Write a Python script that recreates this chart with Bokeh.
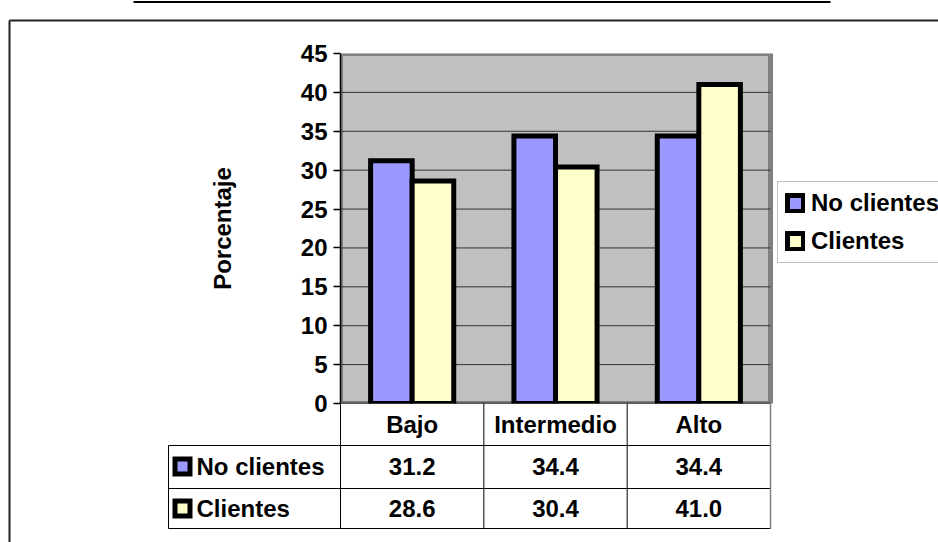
from bokeh.plotting import figure
from bokeh.models import Range1d, FixedTicker, Legend, LegendItem
from bokeh.embed import file_html
from bokeh.resources import INLINE
from bokeh.core.properties import value

# ---- data ----
categories = ["Bajo", "Intermedio", "Alto"]
series_names = ["No clientes", "Clientes"]
no_clientes = [31.2, 34.4, 34.4]
clientes = [28.6, 30.4, 41.0]
y_ticks = [0, 5, 10, 15, 20, 25, 30, 35, 40, 45]
axis_title = "Porcentaje"
colors = ["#9999FF", "#FFFFCC"]

# ---- layout constants (pixels) ----
W, H = 938, 542
FL, FR, FT, FB = 340, 770, 53, 403   # plot area in pixels
YMAX = y_ticks[-1]
NCAT = len(categories)
FONT = "Liberation Sans"
FS = "24px"


def px2x(px):
    return (px - FL) / (FR - FL) * NCAT


def px2y(py):
    return (FB - py) / (FB - FT) * YMAX


# frame spans from the value axis to the right edge of the page
p = figure(width=W, height=H, x_range=Range1d(0, px2x(W)), y_range=Range1d(0, YMAX),
           output_backend="svg", toolbar_location=None,
           min_border_left=FL, min_border_right=0,
           min_border_top=FT, min_border_bottom=H - FB)
p.background_fill_color = "white"
p.border_fill_color = "white"
p.outline_line_color = None
p.xgrid.visible = False
p.ygrid.visible = False
p.xaxis.visible = False

ya = p.yaxis[0]
ya.ticker = FixedTicker(ticks=y_ticks)
ya.axis_line_color = "black"
ya.axis_line_width = 1.5
ya.major_tick_out = 7
ya.major_tick_in = 0
ya.major_tick_line_color = "black"
ya.major_tick_line_width = 1.5
ya.minor_tick_line_color = None
ya.major_label_standoff = 6
ya.major_label_text_font = FONT
ya.major_label_text_font_style = "bold"
ya.major_label_text_font_size = FS
ya.major_label_text_color = "black"
ya.axis_label = axis_title
ya.axis_label_text_font = FONT
ya.axis_label_text_font_style = "bold"
ya.axis_label_text_font_size = FS
ya.axis_label_text_color = "black"
ya.axis_label_standoff = 62

# plot area (grey with a darker grey border)
p.quad(left=[0], right=[NCAT], bottom=[0], top=[YMAX], fill_color="#C0C0C0",
       line_color="#808080", line_width=5, line_join="miter", level="underlay")
# horizontal gridlines
inner = y_ticks[1:-1]
p.segment(x0=[0] * len(inner), x1=[NCAT] * len(inner), y0=inner, y1=inner,
          line_color="#333333", line_width=1)
# category axis line
p.segment(x0=[0], x1=[NCAT], y0=[0], y1=[0], line_color="black", line_width=1.5)

# bars
off, bw = 0.145, 0.29
centers = [i + 0.5 for i in range(NCAT)]
r1 = p.vbar(x=[c - off for c in centers], top=no_clientes, bottom=0, width=bw,
            fill_color=colors[0], line_color="black", line_width=5, line_join="miter")
r2 = p.vbar(x=[c + off for c in centers], top=clientes, bottom=0, width=bw,
            fill_color=colors[1], line_color="black", line_width=5, line_join="miter")

# legend
legend = Legend(items=[LegendItem(label=series_names[0], renderers=[r1]),
                       LegendItem(label=series_names[1], renderers=[r2])],
                location=(777 - FL, FB - 263))
legend.border_line_color = "#808080"
legend.border_line_width = 1
legend.background_fill_color = "white"
legend.background_fill_alpha = 1
legend.label_text_font = FONT
legend.label_text_font_style = "bold"
legend.label_text_font_size = FS
legend.label_text_color = "black"
legend.glyph_width = 20
legend.glyph_height = 20
legend.padding = 7
legend.spacing = 10
legend.label_standoff = 6
legend.margin = 0
p.add_layout(legend)

# data table lines
row_px = [445, 488, 528]
left_px = 168
hy = [px2y(v) for v in row_px]
p.segment(x0=[px2x(left_px)] * len(hy), y0=hy, x1=[NCAT] * len(hy), y1=hy,
          line_color="black", line_width=1, level="overlay")
vx = list(range(NCAT))
p.segment(x0=vx, y0=[0] * len(vx), x1=vx, y1=[px2y(528)] * len(vx),
          line_color="black", line_width=1, level="overlay")
p.segment(x0=[NCAT], y0=[0], x1=[NCAT], y1=[px2y(528)],
          line_color="#808080", line_width=1.5, level="overlay")
p.segment(x0=[px2x(left_px)], y0=[px2y(445)], x1=[px2x(left_px)], y1=[px2y(528)],
          line_color="black", line_width=1, level="overlay")

txt = dict(text_font=value(FONT), text_font_style="bold", text_font_size=FS,
           text_color="black", text_baseline="middle", level="overlay")
# header
p.text(x=centers, y=[px2y(424)] * NCAT, text=categories, text_align="center", **txt)
# values
p.text(x=centers, y=[px2y(466)] * NCAT, text=[f"{v:.1f}" for v in no_clientes],
       text_align="center", **txt)
p.text(x=centers, y=[px2y(508)] * NCAT, text=[f"{v:.1f}" for v in clientes],
       text_align="center", **txt)
# row labels + keys (black square with a coloured centre)
row_y = [px2y(466), px2y(508)]
p.text(x=[px2x(196)] * 2, y=row_y, text=series_names, text_align="left", **txt)
p.segment(x0=[px2x(172)] * 2, y0=row_y, x1=[px2x(192)] * 2, y1=row_y,
          line_color="black", line_width=20, line_cap="butt", level="overlay")
p.segment(x0=[px2x(177)] * 2, y0=row_y, x1=[px2x(187)] * 2, y1=row_y,
          line_color=colors, line_width=10, line_cap="butt", level="overlay")

# chart border and top rule
p.segment(x0=[px2x(9), px2x(9)], y0=[px2y(20), px2y(20)],
          x1=[px2x(945), px2x(9)], y1=[px2y(20), px2y(550)],
          line_color="#222222", line_width=2, level="overlay")
p.segment(x0=[px2x(133)], y0=[px2y(1.5)], x1=[px2x(830)], y1=[px2y(1.5)],
          line_color="black", line_width=2, level="overlay")

open("out.html", "w").write(file_html(p, INLINE))
